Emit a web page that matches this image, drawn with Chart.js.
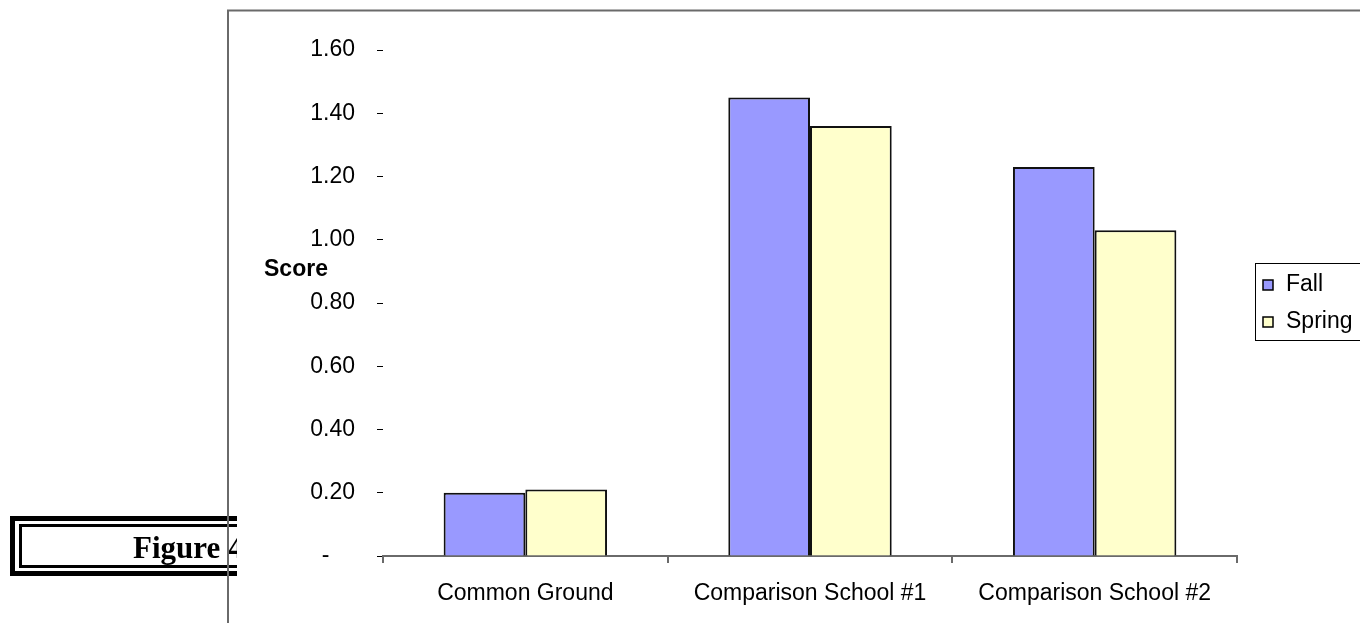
<!DOCTYPE html>
<html>
<head>
<meta charset="utf-8">
<script src="https://cdn.jsdelivr.net/npm/chart.js@4/dist/chart.umd.min.js"></script>
<style>
  html, body { margin: 0; padding: 0; background: #fff; overflow: hidden; }
  canvas { display: block; }
</style>
</head>
<body>
<canvas id="scores" width="1360" height="623"></canvas>
<script>
// Mean scores by school, fall vs spring
const categories = ['Common Ground', 'Comparison School #1', 'Comparison School #2'];
const fallScores = [0.20, 1.45, 1.23];
const springScores = [0.21, 1.36, 1.03];
const seriesNames = ['Fall', 'Spring'];
const yTickLabels = ['-', '0.20', '0.40', '0.60', '0.80', '1.00', '1.20', '1.40', '1.60'];
const axisTitle = 'Score';
const figureCaption = 'Figure 4';

const SANS = '"Liberation Sans", Arial, sans-serif';
const FONT_SIZE = 23;

// Caption box behind the chart, chart surface and its frame
const backdrop = {
  id: 'backdrop',
  beforeDraw(chart) {
    const ctx = chart.ctx;
    ctx.save();
    ctx.strokeStyle = '#000';
    ctx.lineWidth = 5;
    ctx.strokeRect(12.5, 518.5, 260, 55);
    ctx.lineWidth = 3;
    ctx.strokeRect(20.5, 525.5, 260, 41);
    ctx.fillStyle = '#000';
    ctx.font = 'bold 31px "Liberation Serif", "Times New Roman", serif';
    ctx.textBaseline = 'alphabetic';
    ctx.textAlign = 'left';
    ctx.fillText(figureCaption, 133, 558);

    ctx.fillStyle = '#fff';
    ctx.fillRect(237, 11, chart.width - 237, chart.height - 11);

    ctx.strokeStyle = '#6a6a6a';
    ctx.lineWidth = 2;
    ctx.beginPath();
    ctx.moveTo(228, chart.height);
    ctx.lineTo(228, 10.5);
    ctx.lineTo(chart.width, 10.5);
    ctx.stroke();
    ctx.restore();
  }
};

// Horizontal axis title and the boxed legend on the right
const annotations = {
  id: 'annotations',
  afterDraw(chart) {
    const ctx = chart.ctx;
    ctx.save();
    ctx.fillStyle = '#000';
    ctx.font = 'bold ' + FONT_SIZE + 'px ' + SANS;
    ctx.textAlign = 'left';
    ctx.textBaseline = 'middle';
    ctx.fillText(axisTitle, 264, 270);

    ctx.strokeStyle = '#000';
    ctx.lineWidth = 1;
    ctx.strokeRect(1255.5, 263.5, 130, 77);
    ctx.font = FONT_SIZE + 'px ' + SANS;
    const rowY = [285, 322];
    chart.data.datasets.forEach((ds, i) => {
      const y = rowY[i];
      ctx.fillStyle = ds.backgroundColor;
      ctx.fillRect(1263, y - 5, 10, 10);
      ctx.strokeStyle = '#000';
      ctx.lineWidth = 1.5;
      ctx.strokeRect(1263, y - 5, 10, 10);
      ctx.fillStyle = '#000';
      ctx.fillText(ds.label, 1286, y);
    });
    ctx.restore();
  }
};

new Chart(document.getElementById('scores'), {
  type: 'bar',
  data: {
    labels: categories,
    datasets: [
      {
        label: seriesNames[0],
        data: fallScores,
        backgroundColor: '#9999FF',
        borderColor: '#111',
        borderWidth: 2
      },
      {
        label: seriesNames[1],
        data: springScores,
        backgroundColor: '#FFFFCC',
        borderColor: '#111',
        borderWidth: 2
      }
    ]
  },
  options: {
    responsive: false,
    animation: false,
    devicePixelRatio: 1,
    layout: { padding: { left: 230, right: 123, top: 50, bottom: 10 } },
    datasets: { bar: { barPercentage: 1, categoryPercentage: 0.574 } },
    plugins: {
      legend: { display: false },
      tooltip: { enabled: false }
    },
    scales: {
      x: {
        ticks: {
          color: '#000',
          font: { family: SANS, size: FONT_SIZE },
          padding: 17,
          maxRotation: 0,
          autoSkip: false
        },
        grid: {
          drawOnChartArea: false,
          tickLength: 7,
          color: '#6a6a6a',
          lineWidth: 2,
          offset: true
        },
        border: { display: true, color: '#6a6a6a', width: 2 },
        afterFit(scale) { scale.height = 57; }
      },
      y: {
        min: 0,
        max: 1.6,
        ticks: {
          stepSize: 0.2,
          color: '#000',
          font: { family: SANS, size: FONT_SIZE },
          padding: 22,
          callback: (value, index) => index === 0 ? yTickLabels[0] + '    ' : yTickLabels[index]
        },
        grid: {
          drawOnChartArea: false,
          tickLength: 6,
          color: '#000',
          lineWidth: 1
        },
        border: { display: false },
        afterFit(scale) { scale.width = 153; }
      }
    }
  },
  plugins: [backdrop, annotations]
});
</script>
</body>
</html>
